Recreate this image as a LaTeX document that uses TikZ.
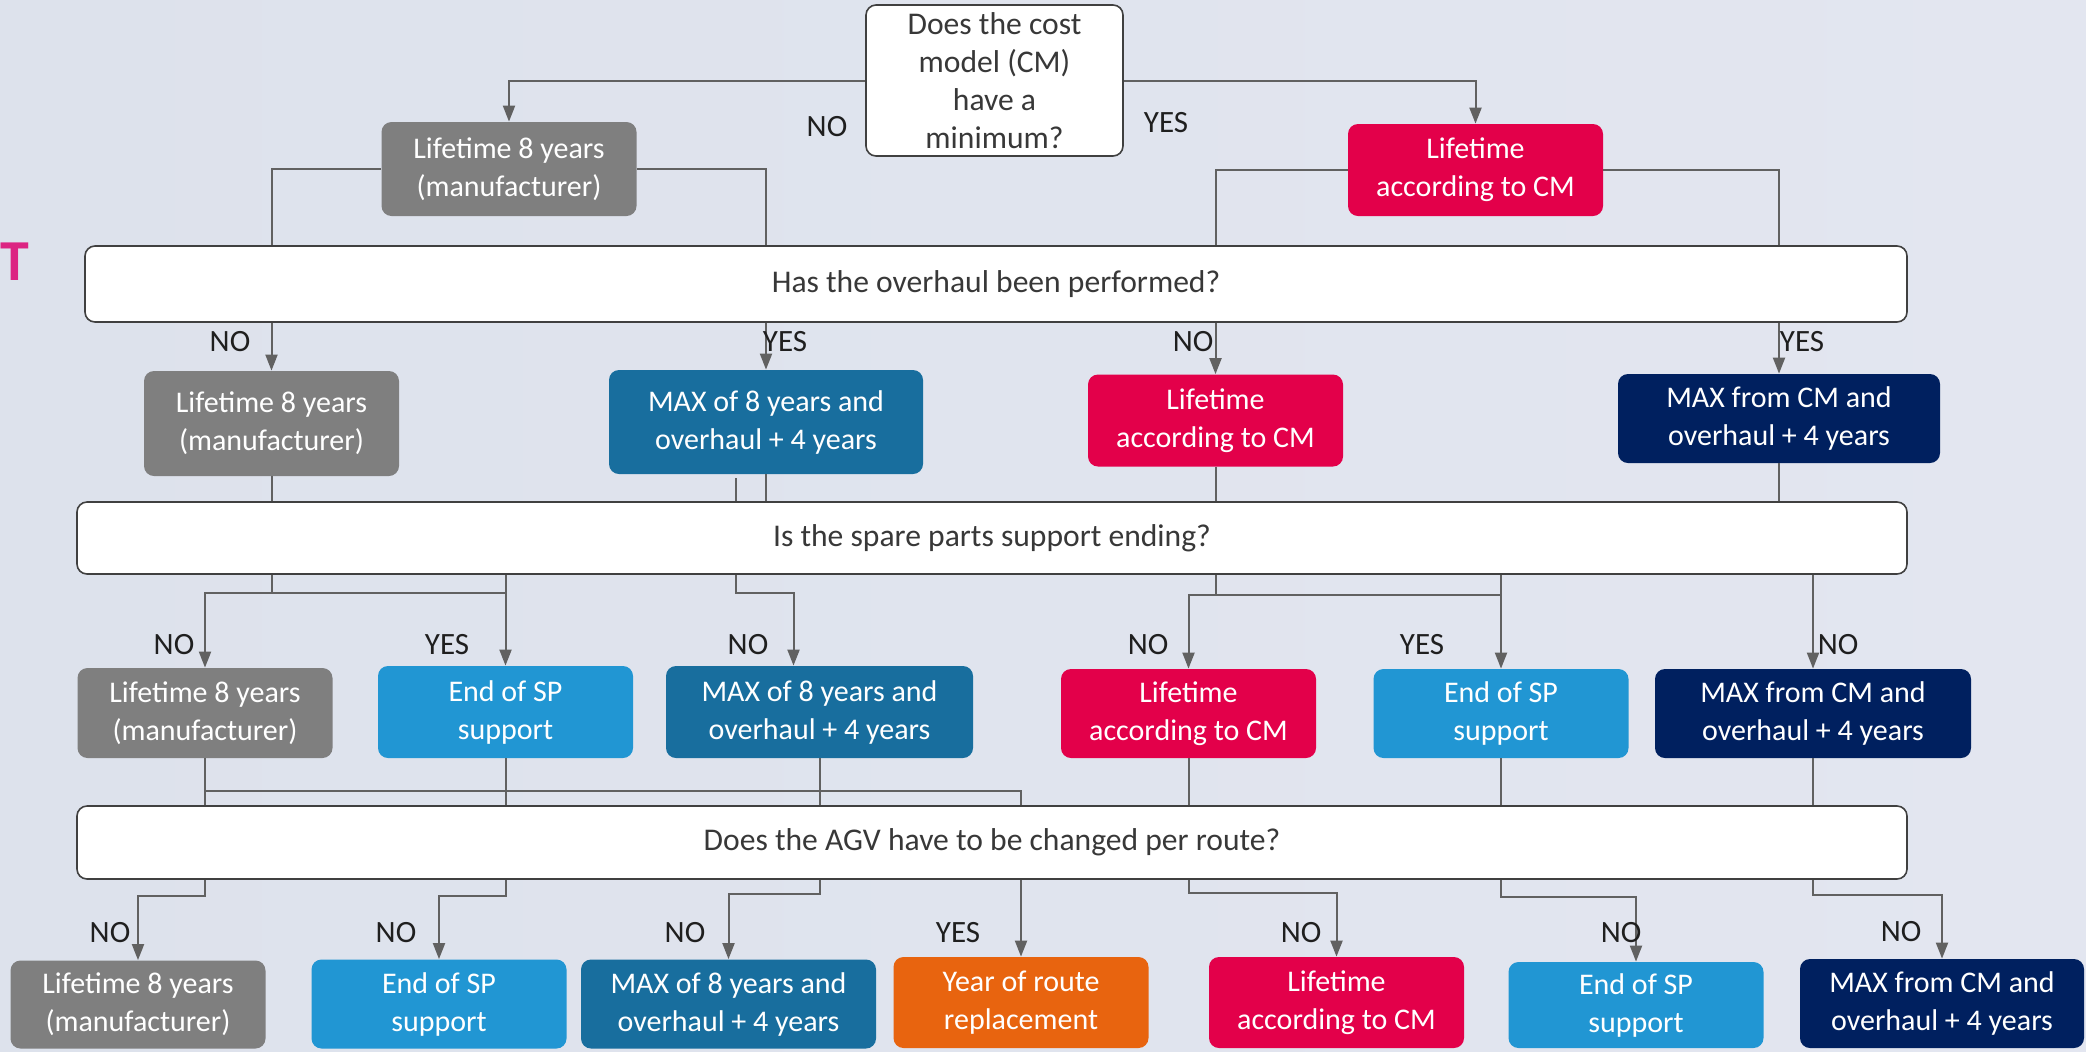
\documentclass[tikz,border=0pt]{standalone}
\usepackage{fontspec}
\setmainfont{Carlito}
\usetikzlibrary{arrows.meta,positioning}

\definecolor{cgray}{HTML}{7F7F7F}
\definecolor{cred}{HTML}{E3004A}
\definecolor{cteal}{HTML}{186E9E}
\definecolor{cblue}{HTML}{2196D3}
\definecolor{cnavy}{HTML}{00205F}
\definecolor{corange}{HTML}{E8640F}
\definecolor{cpink}{HTML}{DC2482}
\definecolor{bgl}{HTML}{DDE2EC}
\definecolor{bgm}{HTML}{EFEEF9}
\definecolor{bgr}{HTML}{E3E6F0}

\begin{document}
\begin{tikzpicture}[x=0.5pt,y=-0.5pt,
    font=\fontsize{15}{19}\selectfont,
    qbox/.style={draw=black!75,line width=0.8pt,fill=white,rounded corners=5pt,
      text=black!78,align=center,inner sep=0pt,font=\fontsize{15.8}{19}\selectfont},
    res/.style={fill=#1,rounded corners=5pt,text=white,align=center,inner sep=0pt,
      minimum width=127.5pt,minimum height=46pt},
    lin/.style={draw=black!62,line width=1pt},
    arr/.style={lin,-{Triangle[length=8pt,width=6pt]}},
    lab/.style={text=black!88,font=\fontsize{15.5}{19}\selectfont}]

    \clip (0,0) rectangle (2086,1051);
    \shade[left color=bgl,middle color=bgm,right color=bgr] (0,0) rectangle (2086,1051);

    \node[text=cpink,font=\fontsize{29}{32}\selectfont\bfseries] (ttl) at (15,262) {T};

    % first question
    \node[qbox,minimum width=128.5pt,minimum height=75.5pt] (q1) at (994.5,80.5) {Does the cost\\model (CM)\\have a\\minimum?};
    \node[res=cgray,minimum height=47pt] (a1) at (509,169) {Lifetime 8 years\\(manufacturer)};
    \node[res=cred] (b1) at (1475.5,170) {Lifetime\\according to CM};

    % overhaul
    \node[qbox,minimum width=911pt,minimum height=38pt] (q2) at (996,284) {Has the overhaul been performed?};
    \node[res=cgray,minimum height=52.5pt] (a2) at (271.5,423.5) {Lifetime 8 years\\(manufacturer)};
    \node[res=cteal,minimum width=157pt,minimum height=52pt] (c2) at (766,422) {MAX of 8 years and\\overhaul + 4 years};
    \node[res=cred] (b2) at (1215.5,420.5) {Lifetime\\according to CM};
    \node[res=cnavy,minimum width=161pt,minimum height=44.5pt] (d2) at (1779,418.5) {MAX from CM and\\overhaul + 4 years};

    % spare parts
    \node[qbox,minimum width=915pt,minimum height=36pt] (q3) at (992,538) {Is the spare parts support ending?};
    \node[res=cgray,minimum height=45pt] (a3) at (205,713) {Lifetime 8 years\\(manufacturer)};
    \node[res=cblue] (e3) at (505.5,712) {End of SP\\support};
    \node[res=cteal,minimum width=153.5pt] (c3) at (819.5,712) {MAX of 8 years and\\overhaul + 4 years};
    \node[res=cred,minimum height=44.5pt] (b3) at (1188.5,713.5) {Lifetime\\according to CM};
    \node[res=cblue,minimum height=44.5pt] (e3b) at (1501,713.5) {End of SP\\support};
    \node[res=cnavy,minimum width=158pt,minimum height=44.5pt] (d3) at (1813,713.5) {MAX from CM and\\overhaul + 4 years};

    % route
    \node[qbox,minimum width=915pt,minimum height=36.5pt] (q4) at (992,842.5) {Does the AGV have to be changed per route?};
    \node[res=cgray,minimum height=44pt] (a4) at (138,1004.5) {Lifetime 8 years\\(manufacturer)};
    \node[res=cblue,minimum height=44.5pt] (e4) at (439,1004) {End of SP\\support};
    \node[res=cteal,minimum width=147.5pt,minimum height=44.5pt] (c4) at (728.5,1004) {MAX of 8 years and\\overhaul + 4 years};
    \node[res=corange,minimum height=45.5pt] (f4) at (1021,1002.5) {Year of route\\replacement};
    \node[res=cred,minimum height=45.5pt] (b4) at (1336.5,1002.5) {Lifetime\\according to CM};
    \node[res=cblue,minimum height=43pt] (e4b) at (1636,1005) {End of SP\\support};
    \node[res=cnavy,minimum width=142pt,minimum height=44.5pt] (d4) at (1942,1003.5) {MAX from CM and\\overhaul + 4 years};

    % connectors
    \draw[arr] (q1.west) -| (a1.north);
    \draw[arr] (q1.east) -| (b1.north);
    \draw[lin] (a1.west) -| (q2.north -| a2.north);
    \draw[lin] (a1.east) -| (q2.north -| c2.north);
    \draw[lin] (b1.west) -| (q2.north -| b2.north);
    \draw[lin] (b1.east) -| (q2.north -| d2.north);

    \foreach \n in {a2,c2,b2,d2}
      \draw[arr] (q2.south -| \n.north) -- (\n.north);
    \foreach \n in {a2,c2,b2,d2}
      \draw[lin] (\n.south) -- (q3.north -| \n.south);
    \coordinate (c2x) at (736,478);
    \draw[lin] (c2x) -- (q3.north -| c2x);

    \draw[lin] (q3.south -| a2.south) -- ++(0,18) coordinate (s1);
    \draw[arr] (s1) -| (a3.north);
    \draw[lin] (s1) -- (s1 -| e3.north);
    \draw[arr] (q3.south -| e3.north) -- (e3.north);
    \draw[arr] (q3.south -| c2x) -- ++(0,18) -| ([xshift=-13pt]c3.north);
    \draw[lin] (q3.south -| b2.south) -- ++(0,20) coordinate (s2);
    \draw[arr] (s2) -| (b3.north);
    \draw[lin] (s2) -- (s2 -| e3b.north);
    \draw[arr] (q3.south -| e3b.north) -- (e3b.north);
    \draw[arr] (q3.south -| d3.north) -- (d3.north);

    \foreach \n in {a3,e3,c3,b3,e3b,d3}
      \draw[lin] (\n.south) -- (q4.north -| \n.south);
    \path (a3.south) ++(0,33) coordinate (s3);
    \draw[lin] (s3) -| (q4.north -| f4.north);

    \draw[arr] (q4.south -| a3.south) -- ++(0,16) -| (a4.north);
    \draw[arr] (q4.south -| e3.south) -- ++(0,16) -| (e4.north);
    \draw[arr] (q4.south -| c3.south) -- ++(0,14) -| (c4.north);
    \draw[arr] (q4.south -| f4.north) -- (f4.north);
    \draw[arr] (q4.south -| b3.south) -- ++(0,13) -| (b4.north);
    \draw[arr] (q4.south -| e3b.south) -- ++(0,17) -| (e4b.north);
    \draw[arr] (q4.south -| d3.south) -- ++(0,15) -| (d4.north);

    % answers
    \foreach \t/\x/\y [count=\i] in {NO/827/127, YES/1166/123,
        NO/230/342, YES/785/342, NO/1193/342, YES/1802/342,
        NO/174/645, YES/447/645, NO/748/645, NO/1148/645, YES/1422/645, NO/1838/645,
        NO/110/933, NO/396/933, NO/685/933, YES/958/933, NO/1301/933, NO/1621/933, NO/1901/932}
      \node[lab] (ans\i) at (\x,\y) {\t};
\end{tikzpicture}
\end{document}
